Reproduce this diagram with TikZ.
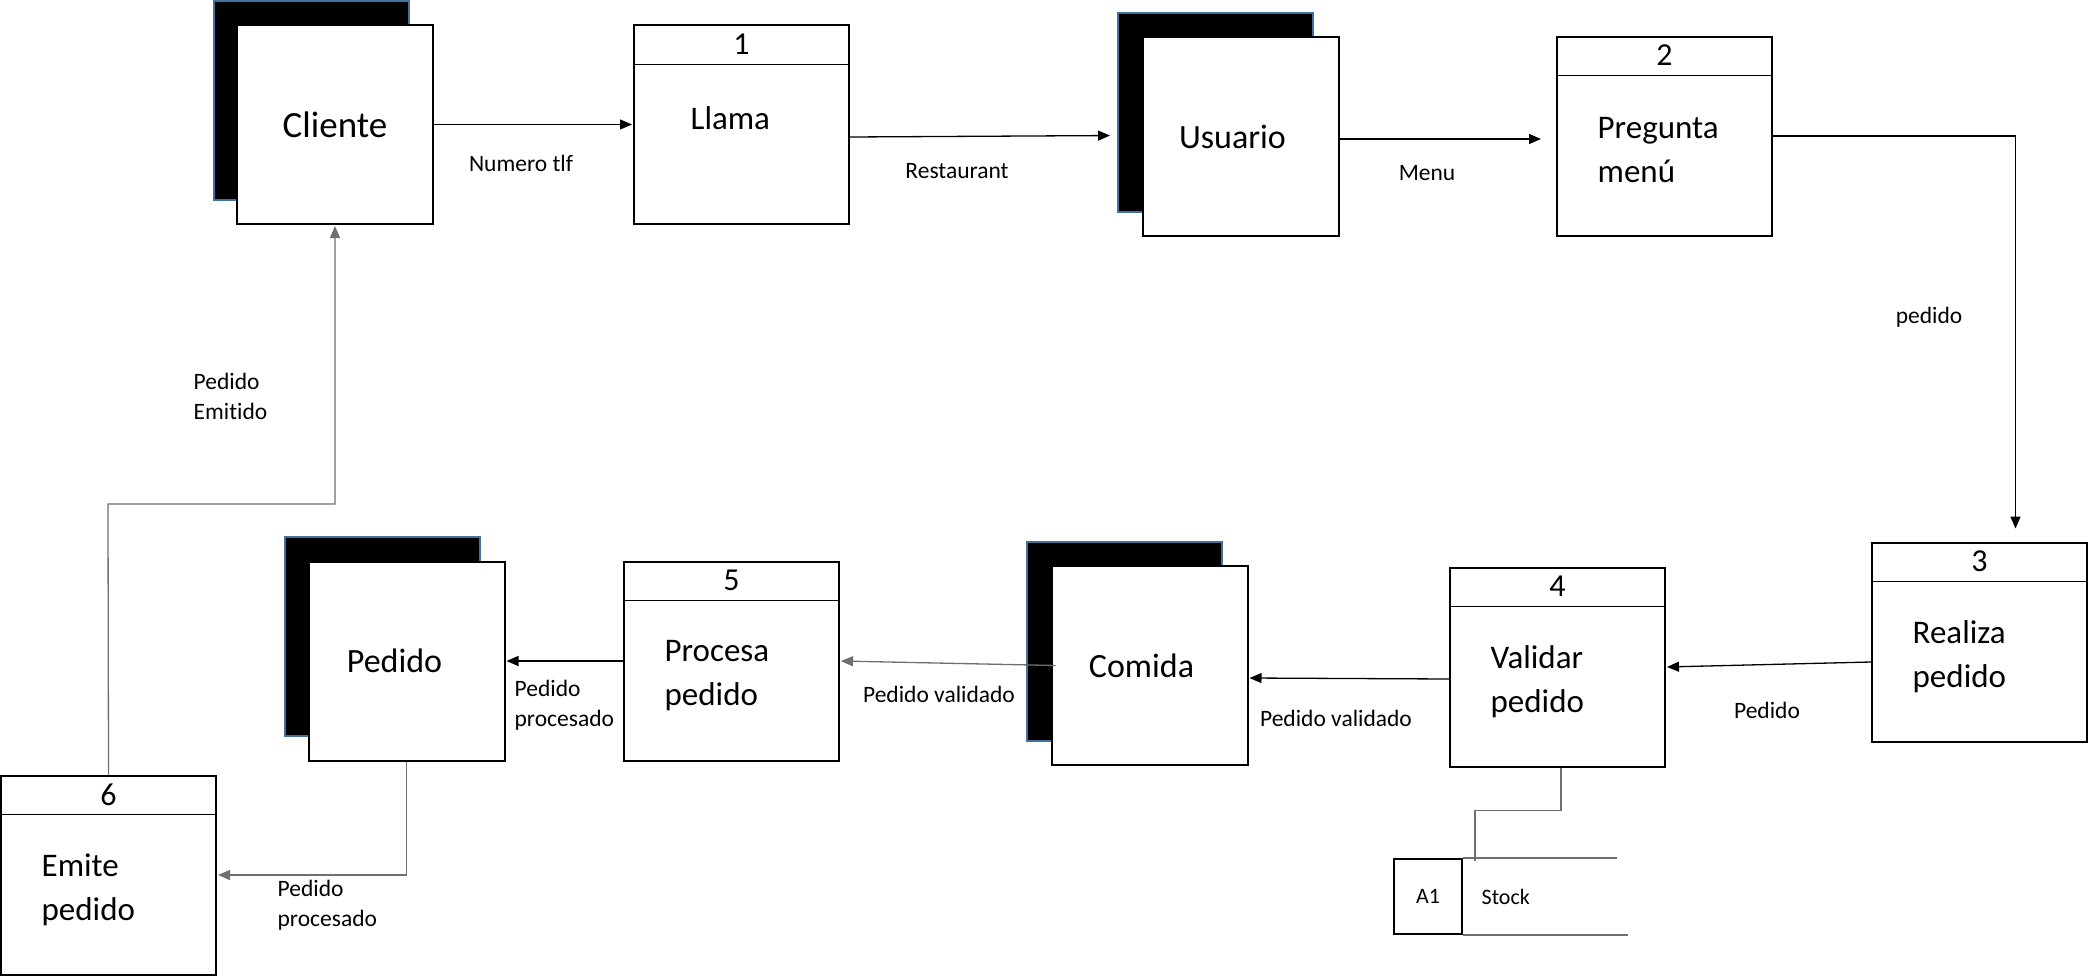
\documentclass[tikz,border=0pt]{standalone}
\usepackage{fontspec}
\setmainfont{Carlito}[Ligatures=NoCommon]
\usetikzlibrary{arrows.meta}
\definecolor{storeblue}{HTML}{41719C}
\definecolor{flowgray}{HTML}{6F6F6F}

\begin{document}
\begin{tikzpicture}[
                                x = 1pt,
                                y = -1pt,
                                > = {Triangle[length=12pt,width=10pt]},
                                shorten > = 1pt,
                                line width = 1.3pt
                                ]

                                \tikzstyle{procbox}=[
                                        draw = black,
                                        rectangle,
                                        line width = 2pt,
                                        fill = white,
                                        minimum width = 215pt,
                                        minimum height = 199pt
                                ]
                                \tikzstyle{storeback}=[
                                        draw = storeblue,
                                        rectangle,
                                        line width = 2pt,
                                        fill = black,
                                        minimum width = 195pt,
                                        minimum height = 199pt
                                ]
                                \tikzstyle{storefront}=[
                                        draw = black,
                                        rectangle,
                                        line width = 2pt,
                                        fill = white,
                                        minimum width = 196pt,
                                        minimum height = 199pt,
                                        font = \fontsize{34}{44}\selectfont
                                ]
                                \tikzstyle{numtext}=[font = \fontsize{32}{36}\selectfont]
                                \tikzstyle{proctext}=[anchor = west, align = left, inner sep = 0pt,
                                        font = \fontsize{33}{44}\selectfont]
                                \tikzstyle{flowlabel}=[align = left, inner sep = 0pt,
                                        font = \fontsize{23.5}{30}\selectfont]
                                \tikzstyle{sepline}=[line width = 1pt]
                                \tikzstyle{flow}=[->, black]
                                \tikzstyle{grayflow}=[->, flowgray]

                                \useasboundingbox (0,0) rectangle (2089,977);

                                % stores
                                \node[storeback] (clienteback) at (311,100.5) {};
                                \node[storefront] (cliente) at (335,124.5) {\fontsize{37}{44}\selectfont Cliente};
                                \node[storeback] (usuarioback) at (1215.5,112.5) {};
                                \node[storefront] (usuario) at (1240.5,136.5) {Usuario\hspace*{16pt}};
                                \node[storeback] (comidaback) at (1124.5,641.5) {};
                                \node[storefront] (comida) at (1149.5,665.5) {Comida\hspace*{16pt}};
                                \node[storeback] (pedidoback) at (382.5,636) {};
                                \node[storefront] (pedido) at (406.5,661) {Pedido\hspace*{24pt}};

                                % processes
                                \node[procbox] (p1) at (741.5,124.5) {};
                                \node[procbox] (p2) at (1664.5,136) {};
                                \node[procbox] (p3) at (1979.5,642) {};
                                \node[procbox] (p4) at (1557.5,667) {};
                                \node[procbox] (p5) at (731.5,661) {};
                                \node[procbox] (p6) at (108.5,875) {};

                                \draw[sepline] ([yshift=-40pt]p1.north west) -- ([yshift=-40pt]p1.north east);
                                \draw[sepline] ([yshift=-40pt]p2.north west) -- ([yshift=-40pt]p2.north east);
                                \draw[sepline] ([yshift=-40pt]p3.north west) -- ([yshift=-40pt]p3.north east);
                                \draw[sepline] ([yshift=-40pt]p4.north west) -- ([yshift=-40pt]p4.north east);
                                \draw[sepline] ([yshift=-40pt]p5.north west) -- ([yshift=-40pt]p5.north east);
                                \draw[sepline] ([yshift=-40pt]p6.north west) -- ([yshift=-40pt]p6.north east);

                                \node[numtext] (n1) at ([yshift=-20pt]p1.north) {1};
                                \node[numtext] (n2) at ([yshift=-20pt]p2.north) {2};
                                \node[numtext] (n3) at ([yshift=-20pt]p3.north) {3};
                                \node[numtext] (n4) at ([yshift=-20pt]p4.north) {4};
                                \node[numtext] (n5) at ([yshift=-20pt]p5.north) {5};
                                \node[numtext] (n6) at ([yshift=-20pt]p6.north) {6};

                                \node[proctext] (t1) at ([xshift=57pt,yshift=-94pt]p1.north west) {Llama};
                                \node[proctext] (t2) at ([xshift=41pt,yshift=-115pt]p2.north west) {Pregunta\\menú};
                                \node[proctext] (t3) at ([xshift=41pt,yshift=-115pt]p3.north west) {Realiza\\pedido};
                                \node[proctext] (t4) at ([xshift=41pt,yshift=-115pt]p4.north west) {Validar\\pedido};
                                \node[proctext] (t5) at ([xshift=41pt,yshift=-115pt]p5.north west) {Procesa\\pedido};
                                \node[proctext] (t6) at ([xshift=41pt,yshift=-115pt]p6.north west) {Emite\\pedido};

                                % data store A1
                                \node[draw, rectangle, line width = 2pt, minimum width = 68pt, minimum height = 75pt,
                                        font = \fontsize{22}{26}\selectfont] (a1) at (1428,896.5) {A1};
                                \draw[flowgray, line width = 1.3pt] (a1.north east) -- ++(155,0);
                                \draw[flowgray, line width = 1.3pt] (a1.south east) -- ++(166,0);
                                \node[flowlabel, anchor = west, font = \fontsize{22}{26}\selectfont] (stock) at ([xshift=18pt]a1.east) {Stock};
                                \coordinate (a1in) at (1475,861);

                                % flows
                                \draw[flow] (cliente.east) -- (p1.west);
                                \draw[flow, shorten > = 7pt] ([yshift=-12.5pt]p1.east) -- ([yshift=-23pt]usuarioback.west);
                                \draw[flow, shorten > = 15pt] ([yshift=-2.5pt]usuario.east) -- ([yshift=-3pt]p2.west);
                                \draw[flow, shorten > = 13pt] (p2.east) -| ([xshift=36pt]p3.north);
                                \draw[flow] ([yshift=-20pt]p3.west) -- (p4.east);
                                \draw[flow] ([yshift=-12pt]p4.west) -- ([yshift=-12.5pt]comida.east);
                                \draw[grayflow] ([xshift=5pt]comida.west) -- (p5.east);
                                \draw[flow] (p5.west) -- (pedido.east);
                                \draw[grayflow] (pedido.south) |- (p6.east);
                                \coordinate (bend6) at (108,504);
                                \draw[grayflow] (p6.north) -- (bend6) -| (cliente.south);
                                \draw[flowgray, shorten > = 0pt] ([xshift=3.5pt]p4.south) -- ++(0,43) -| (a1in);

                                % labels
                                \node[flowlabel] (lnum) at (521,163) {Numero tlf};
                                \node[flowlabel] (lrest) at (957,171) {Restaurant};
                                \node[flowlabel] (lmenu) at (1427,173) {Menu};
                                \node[flowlabel] (lped) at (1929,317) {pedido};
                                \node[flowlabel] (lped3) at (1767,710) {Pedido};
                                \node[flowlabel] (lval4) at (1336,718) {Pedido validado};
                                \node[flowlabel] (lvalc) at (939,694) {Pedido validado};
                                \node[flowlabel, anchor = west] (lproc5) at (514,705) {Pedido\\procesado};
                                \node[flowlabel, anchor = west] (lproc6) at (277,905) {Pedido\\procesado};
                                \node[flowlabel, anchor = west] (lemit) at (193,396) {Pedido\\Emitido};
                       \end{tikzpicture}
\end{document}
